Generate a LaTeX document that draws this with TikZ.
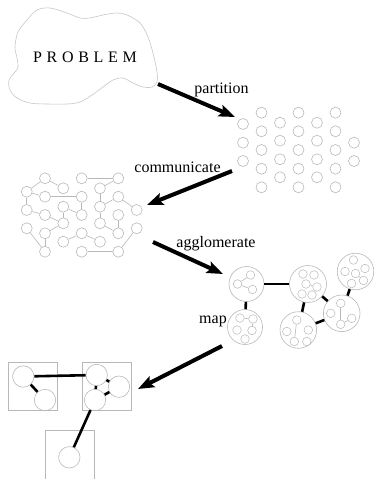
\documentclass[tikz,border=0pt]{standalone}
\usepackage{fontspec}
\setmainfont{Liberation Serif}
\usetikzlibrary{arrows.meta}
\definecolor{lg}{gray}{0.72}
\definecolor{blobc}{gray}{0.78}
\begin{document}
\begin{tikzpicture}[x=1pt,y=-1pt,
  cell/.style={circle,draw=lg,line width=0.6pt,minimum size=11pt,inner sep=0pt},
  link/.style={draw=lg,line width=0.6pt},
  big/.style={circle,draw=lg,line width=0.6pt,inner sep=0pt},
  small/.style={circle,draw=lg,line width=0.5pt,minimum size=8.6pt,inner sep=0pt},
  thick link/.style={draw=black,line width=2.6pt},
  mapc/.style={circle,draw=lg,line width=0.6pt,minimum size=21.4pt,inner sep=0pt},
  mbox/.style={draw=lg,line width=0.6pt},
  arr/.style={line width=4pt,-{Stealth[length=16pt,width=12pt,inset=3pt]}},
  lab/.style={font=\fontsize{16}{19}\selectfont,inner sep=0pt,anchor=base},
  blob/.style={draw=blobc,line width=0.6pt}
]
\useasboundingbox (0,0) rectangle (373,479);

% ---------- PROBLEM blob ----------
\draw[blob] plot[smooth cycle, tension=0.55] coordinates {(15,47) (18,32) (27,20) (37,10) (50,8) (67,13) (80,18) (90,18) (103,15) (117,13) (127,15) (140,23) (148,37) (153,53) (157,72) (157,82) (152,87) (143,87) (133,83) (123,78) (113,80) (103,87) (92,95) (80,102) (67,104) (47,104) (30,103) (17,98) (10,90) (9,80) (15,72) (18,67) (17,58)};
\node[lab] (problem) at (85,62.7) {P\kern4.7pt R\kern4.7pt O\kern4.7pt B\kern4.7pt L\kern4.7pt E\kern4.7pt M};

% ---------- partition grid ----------
\foreach \c/\x/\ys in {0/243/{124,142.7,161},
                      1/261.5/{112.7,131.3,150,168.7,187.3},
                      2/280/{122.7,140.7,159.3,177.3},
                      3/298.5/{112.7,131.3,150,168.7,187.3},
                      4/317/{122.7,140.7,159.3,177.3},
                      5/335.5/{112.7,131.3,150,168.7,187.3},
                      6/354/{142.7,161}}{
  \foreach \y [count=\r] in \ys { \node[cell] (p\c-\r) at (\x,\y) {}; }
}

% ---------- communicate grid ----------
\foreach \c/\x/\ys in {0/26.7/{191.7,210,228.3},
                      1/45/{178.3,196.7,215,233.3,251.7},
                      2/63.3/{188.3,206.7,223.3,241.7},
                      3/81.7/{178.3,196.7,215,233.3,251.7},
                      4/100/{188.3,206.7,223.3,241.7},
                      5/118.3/{178.3,196.7,215,233.3,251.7},
                      6/136.7/{210,228.3}}{
  \foreach \y [count=\r] in \ys { \node[cell] (q\c-\r) at (\x,\y) {}; }
}
\foreach \a/\b in {q1-1/q0-1, q1-1/q2-1, q0-1/q1-2, q1-2/q3-2, q3-1/q5-1, q4-1/q5-1,
                   q0-1/q0-2, q0-2/q1-3, q1-3/q2-3, q2-2/q2-3, q2-2/q3-3, q3-2/q3-3,
                   q2-3/q1-4, q1-4/q1-5, q0-3/q1-5, q2-4/q3-4, q3-4/q4-4, q3-5/q5-5,
                   q6-2/q5-5, q4-1/q4-2, q4-2/q5-2, q5-2/q6-1, q4-2/q4-3, q4-3/q5-4,
                   q5-3/q5-4}
  \draw[link] (\a) -- (\b);

% ---------- agglomerate ----------
\node[big,minimum size=35pt] (g1) at (246.5,284) {};
\begin{scope}[shift={(246.5,284)}]
  \node[small] (g1a) at (-9,0) {}; \node[small] (g1b) at (4,-9) {}; \node[small] (g1c) at (6,5.5) {};
  \draw[link] (g1a) -- (g1b); \draw[link] (g1a) -- (g1c);
\end{scope}
\node[big,minimum size=35pt] (g2) at (245,327) {};
\begin{scope}[shift={(245,327)}]
  \node[small] (g2a) at (-5,-9) {}; \node[small] (g2b) at (8,-8) {}; \node[small] (g2c) at (-8,3) {};
  \node[small] (g2d) at (7,3.5) {}; \node[small] (g2e) at (0,12) {};
  \draw[link] (g2a) -- (g2b); \draw[link] (g2b) -- (g2d);
\end{scope}
\node[big,minimum size=37pt] (g3) at (308,284) {};
\begin{scope}[shift={(308,284)}]
  \node[small] (g3a) at (-5,-10) {}; \node[small] (g3b) at (6,-9) {}; \node[small] (g3c) at (-2,0) {};
  \node[small] (g3d) at (9,3) {}; \node[small] (g3e) at (-6,10) {}; \node[small] (g3f) at (4,11) {};
  \draw[link] (g3c) -- (g3d);
\end{scope}
\node[big,minimum size=36.6pt] (g4) at (355.5,271.5) {};
\begin{scope}[shift={(355.5,271.5)}]
  \node[small] (g4a) at (-2,-11.5) {}; \node[small] (g4b) at (-10.5,0) {}; \node[small] (g4c) at (0,2) {};
  \node[small] (g4d) at (9.5,-3) {}; \node[small] (g4e) at (-4,12) {}; \node[small] (g4f) at (8,9) {};
  \draw[link] (g4c) -- (g4f);
\end{scope}
\node[big,minimum size=36.6pt] (g5) at (341.7,313.3) {};
\begin{scope}[shift={(341.7,313.3)}]
  \node[small] (g5a) at (-1,-10) {}; \node[small] (g5b) at (-11,0) {}; \node[small] (g5c) at (10,5) {};
  \node[small] (g5d) at (-1,11) {};
  \draw[link] (g5a) -- (g5d); \draw[link] (g5c) -- (g5d);
\end{scope}
\node[big,minimum size=36.6pt] (g6) at (298.3,330) {};
\begin{scope}[shift={(298.3,330)}]
  \node[small] (g6a) at (-1.5,-10) {}; \node[small] (g6b) at (-11.5,1.5) {}; \node[small] (g6c) at (10,0) {};
  \node[small] (g6d) at (-4,11.5) {}; \node[small] (g6e) at (8.5,11.5) {};
  \draw[link] (g6a) -- (g6d);
\end{scope}
\foreach \a/\b in {g1/g2, g1/g3, g3/g6, g3/g5, g5/g6, g5/g4}
  \draw[thick link] (\a) -- (\b);

% ---------- map ----------
\draw[mbox] (8.3,362.7) rectangle (57.3,410.7);
\draw[mbox] (82.3,362.7) rectangle (131.7,410.7);
\draw[mbox] (45,480) -- (45,430) -- (94.3,430) -- (94.3,480);
\node[mapc] (ma) at (23.3,376.5) {};
\node[mapc] (mb) at (45,400) {};
\node[mapc] (mc) at (96.7,375) {};
\node[mapc] (md) at (119,386.7) {};
\node[mapc] (me) at (95,400) {};
\node[mapc] (mf) at (69.3,457.3) {};
\foreach \a/\b in {ma/mb, ma/mc, mc/md, mc/me, md/me, me/mf}
  \draw[thick link] (\a) -- (\b);

% ---------- arrows and labels ----------
\coordinate (a1s) at (158,84);  \coordinate (a1e) at (235,117);
\coordinate (a2s) at (232,171); \coordinate (a2e) at (147,205);
\coordinate (a3s) at (153,242); \coordinate (a3e) at (223,274);
\coordinate (a4s) at (222,346); \coordinate (a4e) at (138,389);
\draw[arr] (a1s) -- (a1e);
\draw[arr] (a2s) -- (a2e);
\draw[arr] (a3s) -- (a3e);
\draw[arr] (a4s) -- (a4e);
\node[lab] (lpart) at (221.5,93) {partition};
\node[lab] (lcomm) at (177.5,172) {communicate};
\node[lab] (lagg) at (216,247) {agglomerate};
\node[lab] (lmap) at (213,323) {map};
\end{tikzpicture}
\end{document}
